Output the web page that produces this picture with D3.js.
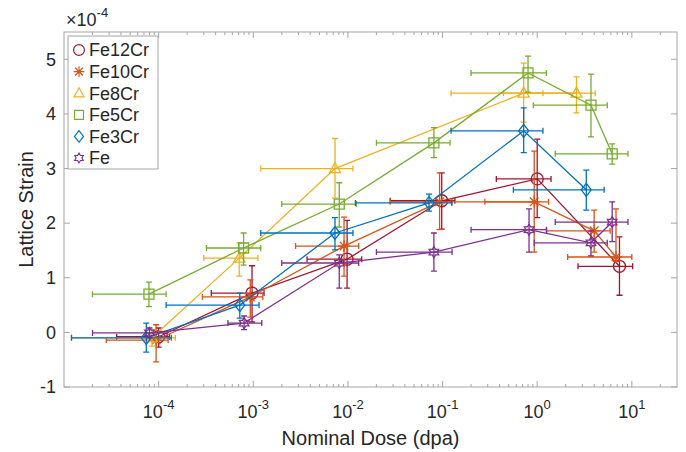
<html>
<head>
<script src="https://d3js.org/d3.v7.min.js"></script>
<style>
  body { margin: 0; background: #fff; }
  text { font-family: "Liberation Sans", Arial, Helvetica, sans-serif; fill: #262626; }
</style>
</head>
<body>
<script>
// rows: [dose, strain, doseLo, doseHi, strainLo, strainHi]   strain in 1e-4
const seriesNames = ['Fe12Cr', 'Fe10Cr', 'Fe8Cr', 'Fe5Cr', 'Fe3Cr', 'Fe'];
const seriesColors = ['#A2142F', '#D95319', '#EDB120', '#77AC30', '#0072BD', '#7E2F8E'];
const seriesMarkers = ['circle', 'asterisk', 'triangle', 'square', 'diamond', 'hexagram'];

const fe12cr = [
  [1.0e-4, -0.08, 3.6e-5, 1.3e-4, -0.27, 0.08],
  [9.7e-4, 0.72, 3.6e-4, 1.3e-3, 0.19, 1.22],
  [9.8e-3, 1.34, 3.7e-3, 1.4e-2, 0.81, 2.05],
  [0.098, 2.41, 0.028, 0.135, 1.89, 2.92],
  [1.0, 2.81, 0.37, 1.4, 2.10, 3.54],
  [7.4, 1.21, 2.7, 10.2, 0.68, 1.75]
];
const fe10cr = [
  [9.4e-5, -0.14, 2.8e-5, 1.26e-4, -0.54, 0.14],
  [9.3e-4, 0.65, 2.9e-4, 1.26e-3, 0.28, 0.96],
  [9.1e-3, 1.58, 2.8e-3, 1.3e-2, 1.03, 2.11],
  [0.093, 2.39, 0.028, 0.126, 1.88, 2.92],
  [0.93, 2.39, 0.28, 1.32, 1.47, 3.32],
  [4.0, 1.86, 1.26, 5.9, 1.47, 2.24],
  [6.8, 1.38, 2.1, 10.0, 1.30, 2.26]
];
const fe8cr = [
  [8.5e-5, -0.10, 1.2e-5, 1.5e-4, -0.25, 0.05],
  [7.1e-4, 1.36, 3.0e-4, 1.12e-3, 1.03, 1.64],
  [7.3e-3, 3.00, 1.2e-3, 1.13e-2, 2.46, 3.55],
  [0.72, 4.38, 0.123, 1.15, 3.85, 4.93],
  [2.6, 4.38, 0.44, 4.1, 4.02, 4.68]
];
const fe5cr = [
  [7.9e-5, 0.70, 2.0e-5, 1.2e-4, 0.47, 0.92],
  [7.9e-4, 1.545, 3.2e-4, 1.2e-3, 1.23, 1.82],
  [8.1e-3, 2.35, 2.0e-3, 1.23e-2, 1.93, 2.74],
  [0.081, 3.47, 0.020, 0.12, 3.20, 3.75],
  [0.80, 4.75, 0.20, 1.25, 4.40, 5.06],
  [3.7, 4.16, 0.91, 5.5, 3.58, 4.73],
  [6.2, 3.27, 1.55, 9.1, 3.08, 3.45]
];
const fe3cr = [
  [7.4e-5, -0.10, 1.2e-5, 1.36e-4, -0.36, 0.17],
  [7.2e-4, 0.50, 1.2e-4, 1.15e-3, 0.26, 0.72],
  [7.3e-3, 1.82, 1.2e-3, 1.13e-2, 1.51, 2.10],
  [0.072, 2.37, 0.012, 0.125, 2.22, 2.53],
  [0.72, 3.69, 0.123, 1.15, 3.29, 4.11],
  [3.3, 2.61, 0.56, 5.1, 2.24, 2.97]
];
const fe = [
  [8.0e-5, -0.01, 2.0e-5, 1.23e-4, -0.10, 0.08],
  [8.0e-4, 0.17, 5.4e-4, 1.23e-3, 0.05, 0.30],
  [8.1e-3, 1.27, 2.0e-3, 1.3e-2, 0.81, 1.42],
  [0.081, 1.47, 0.020, 0.126, 1.12, 1.82],
  [0.82, 1.88, 0.20, 1.25, 1.47, 2.26],
  [3.7, 1.64, 0.93, 5.5, 1.40, 1.86],
  [6.2, 2.02, 1.55, 9.1, 1.66, 2.39]
];
const allSeries = [fe12cr, fe10cr, fe8cr, fe5cr, fe3cr, fe];

const xTickExps = [-4, -3, -2, -1, 0, 1];
const yTicks = [-1, 0, 1, 2, 3, 4, 5];

const W = 686, H = 452;
const m = {left: 64, top: 32, right: 9, bottom: 65};
const iw = W - m.left - m.right, ih = H - m.top - m.bottom;

const x = d3.scaleLog().domain([1e-5, 30]).range([0, iw]);
const y = d3.scaleLinear().domain([-1, 5.5]).range([ih, 0]);

const svg = d3.select('body').append('svg').attr('width', W).attr('height', H);
const g = svg.append('g').attr('transform', 'translate(' + m.left + ',' + m.top + ')');

// box + ticks
const axisColor = '#a6a6a6';
g.append('rect').attr('width', iw).attr('height', ih)
  .attr('fill', 'none').attr('stroke', axisColor).attr('stroke-width', 1);

const minorX = [];
for (let e = -5; e <= 1; e++) for (let k = 2; k <= 9; k++) {
  const v = k * Math.pow(10, e);
  if (v < 30) minorX.push(v);
}
const ticksG = g.append('g').attr('stroke', axisColor).attr('stroke-width', 1);
minorX.forEach(v => {
  ticksG.append('line').attr('x1', x(v)).attr('x2', x(v)).attr('y1', ih).attr('y2', ih - 3);
  ticksG.append('line').attr('x1', x(v)).attr('x2', x(v)).attr('y1', 0).attr('y2', 3);
});
xTickExps.forEach(e => {
  const v = Math.pow(10, e);
  ticksG.append('line').attr('x1', x(v)).attr('x2', x(v)).attr('y1', ih).attr('y2', ih - 6);
  ticksG.append('line').attr('x1', x(v)).attr('x2', x(v)).attr('y1', 0).attr('y2', 6);
});
yTicks.forEach(v => {
  ticksG.append('line').attr('x1', 0).attr('x2', 6).attr('y1', y(v)).attr('y2', y(v));
  ticksG.append('line').attr('x1', iw).attr('x2', iw - 6).attr('y1', y(v)).attr('y2', y(v));
});

// tick labels
xTickExps.forEach(e => {
  const t = g.append('text').attr('x', x(Math.pow(10, e))).attr('y', ih + 31)
    .attr('text-anchor', 'middle').style('font-size', '18px');
  t.append('tspan').text('10');
  t.append('tspan').attr('dy', -9).style('font-size', '13px').text(e);
});
yTicks.forEach(v => {
  g.append('text').attr('x', -8).attr('y', y(v)).attr('dy', '0.35em')
    .attr('text-anchor', 'end').style('font-size', '18px').text(v);
});
const mult = g.append('text').attr('x', 2).attr('y', -6).style('font-size', '18px');
mult.append('tspan').text('\u00d710');
mult.append('tspan').attr('dy', -9).style('font-size', '13px').text('-4');

// axis labels
svg.append('text').attr('x', m.left + iw / 2).attr('y', H - 7)
  .attr('text-anchor', 'middle').style('font-size', '20px').text('Nominal Dose (dpa)');
svg.append('text').attr('transform', 'translate(33,' + (m.top + ih / 2) + ') rotate(-90)')
  .attr('text-anchor', 'middle').style('font-size', '20px').text('Lattice Strain');

// markers
function markerPath(type) {
  const r = 6;
  if (type === 'circle') return d3.symbol(d3.symbolCircle, Math.PI * r * r)();
  if (type === 'square') return 'M-5,-5H5V5H-5Z';
  if (type === 'diamond') return 'M0,-6.5L5,0L0,6.5L-5,0Z';
  if (type === 'triangle') return 'M0,-6L5.5,4L-5.5,4Z';
  if (type === 'asterisk') return 'M-6,0H6M0,-6V6M-4.3,-4.3L4.3,4.3M-4.3,4.3L4.3,-4.3';
  if (type === 'hexagram') {
    const pts = [];
    for (let i = 0; i < 12; i++) {
      const a = -Math.PI / 2 + i * Math.PI / 6;
      const rr = i % 2 === 0 ? 5.5 : 3.2;
      pts.push([rr * Math.cos(a), rr * Math.sin(a)]);
    }
    return 'M' + pts.map(p => p[0].toFixed(2) + ',' + p[1].toFixed(2)).join('L') + 'Z';
  }
}

const line = d3.line().x(d => x(d[0])).y(d => y(d[1]));
const cap = 3;

allSeries.forEach((data, i) => {
  const col = seriesColors[i];
  const sg = g.append('g').attr('stroke', col).attr('fill', 'none').attr('stroke-width', 1.3);
  sg.append('path').attr('d', line(data));
  const eb = sg.selectAll('g.eb').data(data).enter().append('g');
  eb.append('path').attr('d', d =>
    'M' + x(d[0]) + ',' + y(d[4]) + 'V' + y(d[5]) +
    'M' + (x(d[0]) - cap) + ',' + y(d[4]) + 'h' + 2 * cap +
    'M' + (x(d[0]) - cap) + ',' + y(d[5]) + 'h' + 2 * cap);
  eb.append('path').attr('d', d =>
    'M' + x(d[2]) + ',' + y(d[1]) + 'H' + x(d[3]) +
    'M' + x(d[2]) + ',' + (y(d[1]) - cap) + 'v' + 2 * cap +
    'M' + x(d[3]) + ',' + (y(d[1]) - cap) + 'v' + 2 * cap);
  eb.append('path').attr('d', markerPath(seriesMarkers[i]))
    .attr('transform', d => 'translate(' + x(d[0]) + ',' + y(d[1]) + ')');
});

// legend
const lg = g.append('g').attr('transform', 'translate(4,4)');
lg.append('rect').attr('width', 90).attr('height', 133)
  .attr('fill', '#fff').attr('stroke', axisColor);
seriesNames.forEach((name, i) => {
  const ly = 14 + i * 21.6;
  lg.append('path').attr('d', markerPath(seriesMarkers[i]))
    .attr('transform', 'translate(11,' + ly + ') scale(0.9)')
    .attr('fill', 'none').attr('stroke', seriesColors[i]).attr('stroke-width', 1.3);
  lg.append('text').attr('x', 21).attr('y', ly).attr('dy', '0.35em')
    .style('font-size', '18px').text(name);
});
</script>
</body>
</html>
